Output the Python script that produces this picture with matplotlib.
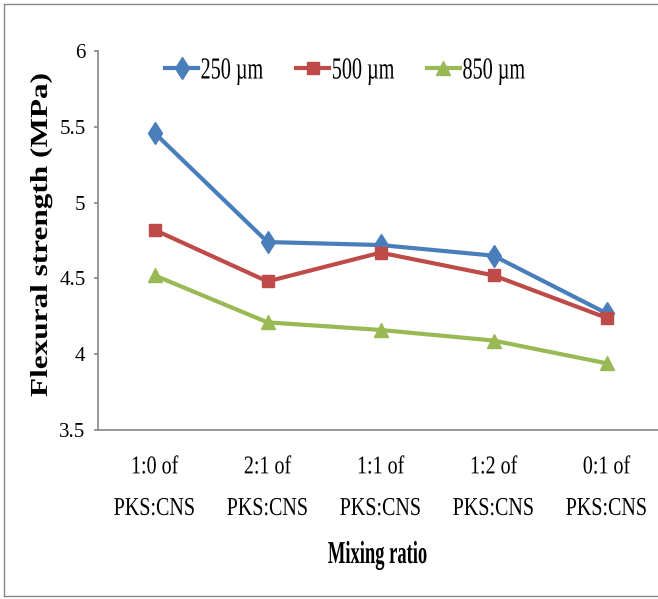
import numpy as np
import matplotlib.pyplot as plt
from matplotlib.lines import Line2D
from matplotlib.patheffects import AbstractPathEffect
from matplotlib.transforms import Affine2D

# Data
ratios = ['1:0 of\nPKS:CNS', '2:1 of\nPKS:CNS', '1:1 of\nPKS:CNS', '1:2 of\nPKS:CNS', '0:1 of\nPKS:CNS']
s250 = [5.46, 4.74, 4.72, 4.65, 4.27]
s500 = [4.82, 4.48, 4.67, 4.52, 4.24]
s850 = [4.52, 4.21, 4.16, 4.09, 3.94]


class Squash(AbstractPathEffect):
    """Scale glyph outlines (condensed look of the original text)."""
    def __init__(self, sx=1.0, sy=1.0, anchor='center'):
        super().__init__()
        self.sx, self.sy, self.anchor = sx, sy, anchor

    def draw_path(self, renderer, gc, tpath, affine, rgbFace=None):
        ext = tpath.get_extents()
        cx = {'left': ext.x0, 'center': (ext.x0 + ext.x1) / 2, 'right': ext.x1}[self.anchor]
        cy = (ext.y0 + ext.y1) / 2
        t = Affine2D().translate(-cx, -cy).scale(self.sx, self.sy).translate(cx, cy)
        renderer.draw_path(gc, tpath, t + affine, rgbFace)


plt.rcParams['font.family'] = 'Liberation Serif'

W, H = 658, 599
fig = plt.figure(figsize=(W / 100, H / 100), dpi=100, facecolor='white')
ax = fig.add_axes([98 / W, 1 - 430 / H, 565 / W, 379 / H])

x = np.arange(len(ratios))
ax.plot(x, s250, color='#4A7EBB', marker='d', markersize=11.5, linewidth=3, label='250 µm')
ax.plot(x, s500, color='#BE4B48', marker='s', markersize=8.5, linewidth=3, label='500 µm')
ax.plot(x, s850, color='#98B954', marker='^', markersize=10, linewidth=3, label='850 µm')

ax.set_xlim(-0.5, 4.5)
ax.set_ylim(3.5, 6)
ax.set_yticks([3.5, 4, 4.5, 5, 5.5, 6])
ax.set_yticklabels(['3.5', '4', '4.5', '5', '5.5', '6'])
ax.set_xticks(x)
ax.set_xticklabels(ratios, linespacing=2.15)

for s in ['top', 'right']:
    ax.spines[s].set_visible(False)
for s in ['left', 'bottom']:
    ax.spines[s].set_color('#868686')
    ax.spines[s].set_linewidth(1.2)
ax.tick_params(axis='y', length=3, width=1.2, color='#868686', labelsize=15, pad=6)
ax.tick_params(axis='x', length=0, labelsize=18.5, pad=19)
for lab in ax.get_xticklabels():
    lab.set_path_effects([Squash(sx=0.78)])

fig.text(378 / W, 1 - 563 / H, 'Mixing ratio', fontsize=23, fontweight='bold',
         ha='center', va='baseline', path_effects=[Squash(sx=0.58)])
fig.text(41 / W, 1 - 235 / H, 'Flexural strength (MPa)', rotation=90, fontsize=22.5,
         fontweight='bold', ha='center', va='center', path_effects=[Squash(sy=0.78)])

leg = ax.legend(loc='center left', bbox_to_anchor=((165 - 98) / 565, (430 - 71) / 379),
                ncol=3, frameon=False, fontsize=22, borderpad=0, borderaxespad=0,
                handlelength=1.08, handletextpad=0.07, columnspacing=0.05)
for t in leg.get_texts():
    t.set_path_effects([Squash(sx=0.66, anchor='left')])

# outer chart border (left, top, bottom)
for xs, ys in [([4, 4], [4, 596]), ([4, W + 5], [4, 4]), ([4, W + 5], [596, 596])]:
    fig.add_artist(Line2D([v / W for v in xs], [1 - v / H for v in ys],
                          transform=fig.transFigure, color='#868686', linewidth=1.0))

plt.savefig('out.png', dpi=100)
